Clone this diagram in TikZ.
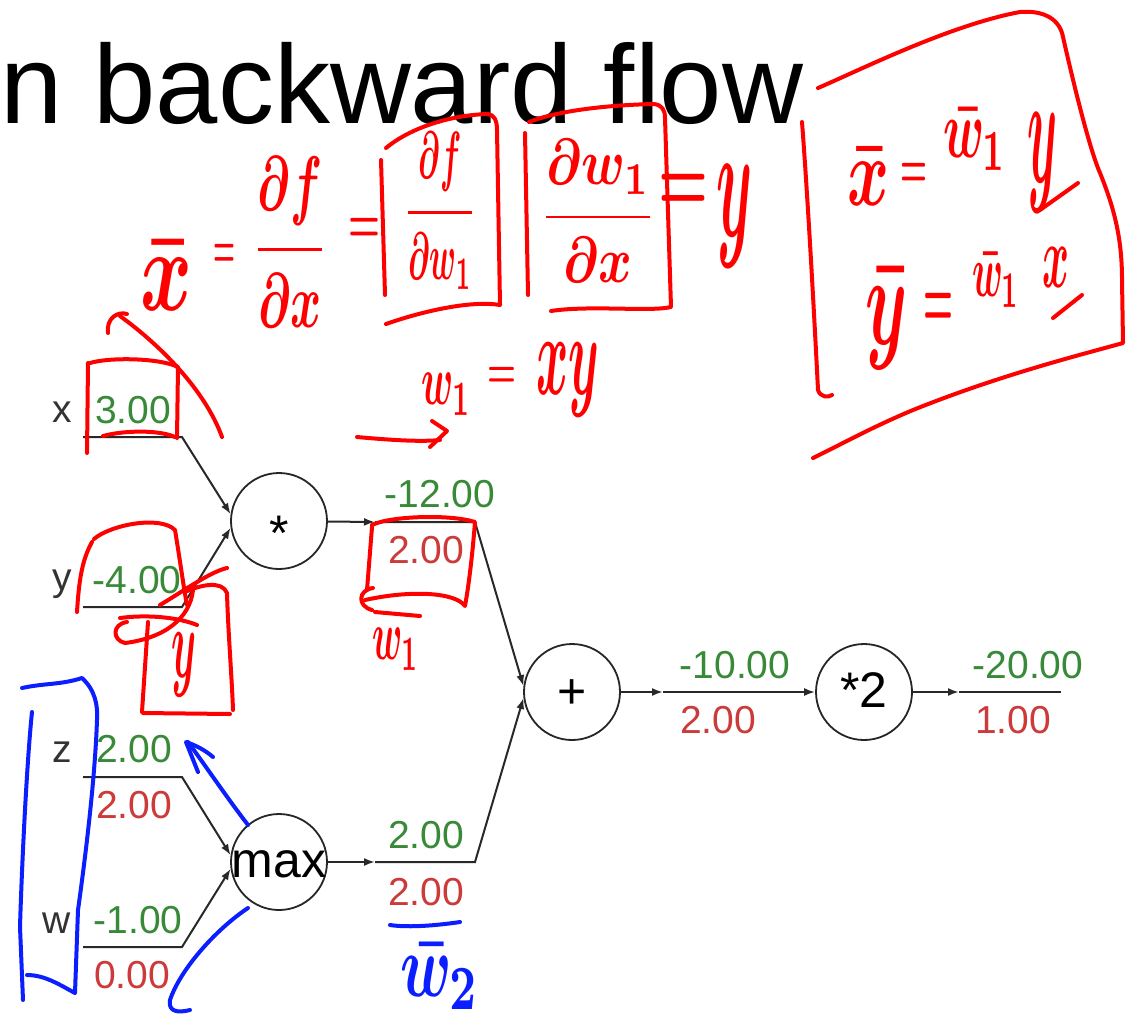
\documentclass[tikz,border=0pt]{standalone}
\usepackage{graphicx}
\usepackage{fontspec}
\setmainfont{Liberation Sans}
\usetikzlibrary{arrows.meta}
\definecolor{vgreen}{RGB}{56,138,56}
\definecolor{vred}{RGB}{204,58,58}
\definecolor{hred}{RGB}{255,0,0}
\definecolor{hblue}{RGB}{10,30,255}
\definecolor{wirec}{RGB}{40,40,40}
\newcommand\hwt[3]{\resizebox*{#1pt}{#2pt}{\boldmath$\displaystyle #3$}}
\begin{document}
\begin{tikzpicture}[x=1pt,y=-1pt,
  gate/.style={circle, draw=black!85, line width=1.8pt, minimum size=96pt, inner sep=0pt},
  wire/.style={draw=wirec, line width=2pt},
  arr/.style={wire, -{Latex[length=11pt,width=8pt]}},
  num/.style={font=\fontsize{39}{44}\selectfont, anchor=base, inner sep=0pt},
  fwd/.style={num, text=vgreen},
  bwd/.style={num, text=vred},
  var/.style={num, text=black!80},
  glabel/.style={font=\fontsize{50}{56}\selectfont, anchor=base, inner sep=0pt},
  hw/.style={text=hred, inner sep=0pt, outer sep=0pt},
  hwb/.style={text=hblue, inner sep=0pt, outer sep=0pt},
  rs/.style={draw=hred, line width=4pt, line cap=round, line join=round},
  bs/.style={draw=hblue, line width=4pt, line cap=round, line join=round}]
\useasboundingbox[fill=white] (0,0) rectangle (1131,1020);

% title
\node[anchor=base west, inner sep=0pt, font=\fontsize{112}{120}\selectfont] (title) at (0,123) {n backward flow};

% gates
\node[gate] (mul) at (279,521) {};
\node[gate] (add) at (572,692) {};
\node[gate] (dbl) at (864,692) {};
\node[gate] (mx) at (279,862) {};
\node[glabel] (mullbl) at (279,550) {*};
\node[glabel] (addlbl) at (572,708) {+};
\node[glabel] (dbllbl) at (864,707) {*2};
\node[glabel] (mxlbl) at (279,877) {max};

% wire coordinates
\coordinate (xa) at (83,437); \coordinate (xb) at (182,437);
\coordinate (ya) at (83,607); \coordinate (yb) at (182,607);
\coordinate (za) at (83,777); \coordinate (zb) at (182,777);
\coordinate (wa) at (83,947); \coordinate (wb) at (182,947);
\coordinate (ma) at (375,522); \coordinate (mb) at (475,522);
\coordinate (na) at (375,862); \coordinate (nb) at (475,862);
\coordinate (aa) at (663,692);
\coordinate (da) at (959,692); \coordinate (db) at (1061,692);

\draw[arr] (xa) -- (xb) -- (mul.172);
\draw[arr] (ya) -- (yb) -- (mul.188);
\draw[arr] (za) -- (zb) -- (mx.172);
\draw[arr] (wa) -- (wb) -- (mx.188);
\draw[arr] (mul) -- (ma);
\draw[arr] (ma) -- (mb) -- (add.173);
\draw[arr] (mx) -- (na);
\draw[arr] (na) -- (nb) -- (add.187);
\draw[arr] (add) -- (aa);
\draw[arr] (aa) -- (dbl);
\draw[arr] (dbl) -- (da);
\draw[wire] (da) -- (db);

% values
\node[var] (xl) at (62,422) {x};
\node[fwd] (xv) at (133,423) {3.00};
\node[var] (yl) at (62,590) {y};
\node[fwd] (yv) at (137,593) {-4.00};
\node[var] (zl) at (62,762) {z};
\node[fwd] (zv) at (134,762) {2.00};
\node[bwd] (zg) at (134,818) {2.00};
\node[var] (wl) at (57,933) {w};
\node[fwd] (wv) at (138,933) {-1.00};
\node[bwd] (wg) at (132,988) {0.00};
\node[fwd] (mv) at (440,507) {-12.00};
\node[bwd] (mg) at (426,563) {2.00};
\node[fwd] (nv) at (426,848) {2.00};
\node[bwd] (ng) at (426,905) {2.00};
\node[fwd] (av) at (735,678) {-10.00};
\node[bwd] (ag) at (718,733) {2.00};
\node[fwd] (dv) at (1028,678) {-20.00};
\node[bwd] (dg) at (1013,733) {1.00};

% ---- red handwriting: top equation
\node[hw] (hxbar) at (166,275) {\hwt{52}{70}{\bar{x}}};
\node[hw] (heqa) at (224,256) {\hwt{22}{23}{=}};
\node[hw] (hfr1) at (290,242) {\hwt{76}{170}{\frac{\partial f}{\partial x}}};
\node[hw] (heqb) at (364,230) {\hwt{32}{24}{=}};
\node[hw] (hfr2) at (440,211) {\hwt{71}{157}{\frac{\partial f}{\partial w_1}}};
\node[hw] (hfr3) at (598,211) {\hwt{116}{143}{\frac{\partial w_1}{\partial x}}};
\node[hw] (heqc) at (683,193) {\hwt{50}{37}{=}};
\node[hw] (hya) at (734,216) {\hwt{36}{103}{y}};
% boxes
\draw[rs] (381,160) -- (385,295);
\draw[rs] (386,148) .. controls (410,128) and (450,115) .. (488,114) .. controls (494,115) and (497,120) .. (497,130) -- (500,305) .. controls (470,300) and (420,312) .. (386,324);
\draw[rs] (525,133) -- (528,295);
\draw[rs] (529,122) .. controls (560,110) and (610,105) .. (654,104) .. controls (662,105) and (665,110) .. (665,118) -- (671,307) .. controls (650,312) and (590,305) .. (551,311);

% w1 = xy and arrow
\node[hw] (hw1a) at (446,394) {\hwt{50}{42}{w_1}};
\node[hw] (heqd) at (502,377) {\hwt{29}{20}{=}};
\node[hw] (hxya) at (568,380) {\hwt{63}{74}{xy}};
\draw[rs] (357,437) .. controls (390,440) and (420,442) .. (440,440);
\draw[rs] (432,421) -- (447,431) -- (430,447);

% hook and box around 3.00
\draw[rs] (108,333) .. controls (106,318) and (118,311) .. (127,314);
\draw[rs] (120,316) .. controls (160,345) and (205,390) .. (222,437);
\draw[rs] (88,363) -- (87,453);
\draw[rs] (90,363) .. controls (110,357) and (160,358) .. (178,367) -- (177,438);
\draw[rs] (103,436) .. controls (125,430) and (160,430) .. (175,437);

% box around -4.00
\draw[rs] (77,612) .. controls (79,580) and (82,560) .. (92,542);
\draw[rs] (94,539) .. controls (110,525) and (160,515) .. (175,530) .. controls (180,560) and (184,590) .. (187,605);

% scribble and small box with y
\draw[rs] (160,605) .. controls (185,590) and (210,572) .. (227,568);
\draw[rs] (127,622) .. controls (112,624) and (112,640) .. (125,643) .. controls (165,638) and (190,618) .. (193,590);
\draw[rs] (120,618) .. controls (150,614) and (180,618) .. (197,625);
\draw[rs] (148,622) -- (142,712);
\draw[rs] (185,592) .. controls (200,585) and (222,580) .. (227,593) .. controls (228,630) and (232,680) .. (233,710);
\draw[rs] (143,713) -- (230,714);
\node[hw] (hysm) at (184,665) {\hwt{25}{64}{y}};

% box around 2.00 and w1
\draw[rs] (372,527) -- (367,590);
\draw[rs] (372,525) .. controls (390,516) and (450,514) .. (475,522) .. controls (472,560) and (468,590) .. (465,606) .. controls (455,592) and (410,590) .. (365,600);
\draw[rs] (373,588) .. controls (358,590) and (357,606) .. (372,610);
\draw[rs] (375,612) -- (420,616);
\node[hw] (hw1b) at (396,649) {\hwt{47}{42}{w_1}};

% right box
\draw[rs] (818,88) .. controls (860,70) and (950,25) .. (1020,12) .. controls (1045,10) and (1060,20) .. (1063,37) .. controls (1075,90) and (1090,150) .. (1100,173) .. controls (1115,210) and (1122,240) .. (1122,280) -- (1123,343) .. controls (1080,355) and (1000,375) .. (913,410) .. controls (870,428) and (840,445) .. (813,458);
\draw[rs] (802,122) .. controls (808,200) and (815,330) .. (818,390) .. controls (820,397) and (828,398) .. (832,395);
\node[hw] (rxb) at (868,176) {\hwt{42}{58}{\bar{x}}};
\node[hw] (req1) at (914,175) {\hwt{27}{24}{=}};
\node[hw] (rw1a) at (975,139) {\hwt{64}{62}{\bar{w}_1}};
\node[hw] (rya) at (1042,163) {\hwt{30}{100}{y}};
\draw[rs] (1040,210) -- (1078,183);
\node[hw] (ryb) at (886,319) {\hwt{42}{102}{\bar{y}}};
\node[hw] (req2) at (938,310) {\hwt{30}{34}{=}};
\node[hw] (rw1b) at (996,280) {\hwt{48}{55}{\bar{w}_1}};
\node[hw] (rxa) at (1056,267) {\hwt{27}{40}{x}};
\draw[rs] (1053,318) -- (1082,295);

% ---- blue handwriting
\draw[bs] (22,688) .. controls (45,683) and (60,685) .. (82,678) .. controls (95,690) and (98,705) .. (97,720) .. controls (95,780) and (85,860) .. (78,910) -- (75,993) .. controls (60,985) and (45,975) .. (27,975);
\draw[bs] (32,712) .. controls (27,760) and (22,860) .. (20,927) -- (23,1000);
\draw[bs] (248,825) .. controls (225,795) and (205,765) .. (188,742);
\draw[bs] (198,772) -- (186,742) .. controls (195,745) and (205,750) .. (213,757);
\draw[bs] (248,908) .. controls (215,930) and (180,970) .. (170,1000) .. controls (168,1012) and (178,1013) .. (190,1010);
\draw[bs] (390,925) .. controls (410,928) and (440,925) .. (460,922);
\node[hwb] (bw2) at (440,976) {\hwt{80}{67}{\bar{w}_2}};
\end{tikzpicture}
\end{document}
